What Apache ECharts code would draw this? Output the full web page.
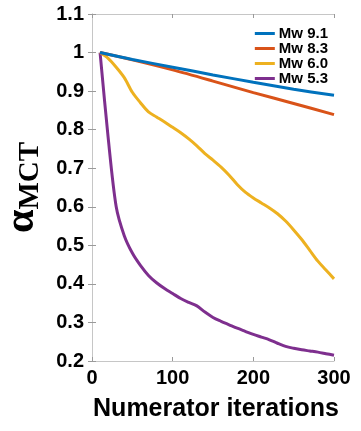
<!DOCTYPE html>
<html>
<head>
<meta charset="utf-8">
<script src="https://cdn.jsdelivr.net/npm/echarts@6/dist/echarts.min.js"></script>
<style>
  html, body { margin: 0; padding: 0; background: #fff; }
  #chart { width: 361px; height: 431px; }
</style>
</head>
<body>
<div id="chart"></div>
<script>
// values
const seriesNames = ["Mw 9.1", "Mw 8.3", "Mw 6.0", "Mw 5.3"]
const colors = ["#0072BD", "#D95319", "#EDB120", "#7E2F8E"]

const mw91Iter = [10, 50, 100, 150, 200, 250, 300]
const mw91 = [1.0, 0.982, 0.962, 0.942, 0.923, 0.905, 0.889]

const mw83Iter = [10, 50, 100, 150, 200, 250, 300]
const mw83 = [1.0, 0.981, 0.955, 0.926, 0.896, 0.868, 0.839]

const mw60Iter = [10, 20, 30, 40, 50, 60, 70, 80, 90, 100, 110, 120, 130, 140, 150,
  160, 170, 180, 190, 200, 210, 220, 230, 240, 250, 260, 270, 280, 290, 300]
const mw60 = [1.0, 0.985, 0.962, 0.935, 0.897, 0.87, 0.846, 0.833, 0.82, 0.806, 0.792,
  0.776, 0.758, 0.738, 0.721, 0.703, 0.682, 0.658, 0.638, 0.623, 0.61, 0.597, 0.582,
  0.563, 0.54, 0.515, 0.487, 0.459, 0.436, 0.413]

const mw53Iter = mw60Iter
const mw53 = [1.0, 0.78, 0.6, 0.525, 0.48, 0.448, 0.422, 0.403, 0.388, 0.375, 0.362,
  0.352, 0.343, 0.327, 0.313, 0.303, 0.294, 0.285, 0.277, 0.269, 0.262, 0.255, 0.246,
  0.238, 0.233, 0.229, 0.226, 0.223, 0.219, 0.215]

const xTicks = [0, 100, 200, 300]
const yTicks = [0.2, 0.3, 0.4, 0.5, 0.6, 0.7, 0.8, 0.9, 1.0, 1.1]

const xs = [mw91Iter, mw83Iter, mw60Iter, mw53Iter]
const ys = [mw91, mw83, mw60, mw53]

const chart = echarts.init(document.getElementById("chart"), null, { renderer: "canvas" })

const labelFont = { fontFamily: "Liberation Sans, Arial, sans-serif", fontWeight: "bold", color: "#000" }
const serifBold = { fontFamily: "Liberation Serif, Times New Roman, serif", fontWeight: "bold", color: "#000" }
const frameLine = { show: true, lineStyle: { color: "#c6c6c6", width: 1 } }
const tickIn = { show: true, inside: true, length: 4, lineStyle: { color: "#9a9a9a" } }

chart.setOption({
  animation: false,
  textStyle: labelFont,
  grid: { left: 92, right: 27, top: 14, bottom: 70, containLabel: false, outerBoundsMode: "none" },
  legend: {
    data: seriesNames,
    orient: "vertical",
    right: 28,
    top: 21,
    itemGap: 0,
    itemWidth: 20,
    itemHeight: 3,
    icon: "rect",
    textStyle: { ...labelFont, fontSize: 15, lineHeight: 14, padding: [0, 0, 0, -1] },
  },
  xAxis: [
    {
      type: "value",
      min: xTicks[0],
      max: xTicks[xTicks.length - 1],
      interval: 100,
      axisLine: frameLine,
      axisTick: tickIn,
      splitLine: { show: false },
      axisLabel: { ...labelFont, fontSize: 20, margin: 7 },
      name: "Numerator iterations",
      nameLocation: "middle",
      nameGap: 36,
      nameTextStyle: { ...labelFont, fontSize: 25, padding: [0, 0, 0, 6] },
    },
    {
      type: "value",
      position: "top",
      min: xTicks[0],
      max: xTicks[xTicks.length - 1],
      interval: 100,
      axisLine: frameLine,
      axisTick: tickIn,
      axisLabel: { show: false },
      splitLine: { show: false },
    },
  ],
  yAxis: [
    {
      type: "value",
      min: yTicks[0],
      max: yTicks[yTicks.length - 1],
      interval: 0.1,
      axisLine: frameLine,
      axisTick: tickIn,
      splitLine: { show: false },
      axisLabel: {
        ...labelFont,
        fontSize: 20,
        margin: 8,
        formatter: (v) => String(+v.toFixed(1)),
      },
      name: "{a|α}{s|MCT}",
      nameLocation: "middle",
      nameRotate: 90,
      nameGap: 38,
      nameTextStyle: {
        rich: {
          a: { ...serifBold, fontSize: 42, lineHeight: 44, verticalAlign: "top" },
          s: { ...serifBold, fontSize: 29, lineHeight: 29, verticalAlign: "bottom" },
        },
      },
    },
    {
      type: "value",
      position: "right",
      min: yTicks[0],
      max: yTicks[yTicks.length - 1],
      interval: 0.1,
      axisLine: frameLine,
      axisTick: tickIn,
      axisLabel: { show: false },
      splitLine: { show: false },
    },
  ],
  series: seriesNames.map((name, i) => ({
    name,
    type: "line",
    showSymbol: false,
    smooth: 0.3,
    data: xs[i].map((x, k) => [x, ys[i][k]]),
    lineStyle: { color: colors[i], width: 3 },
    itemStyle: { color: colors[i] },
    z: 10 - i,
  })),
})
</script>
</body>
</html>
